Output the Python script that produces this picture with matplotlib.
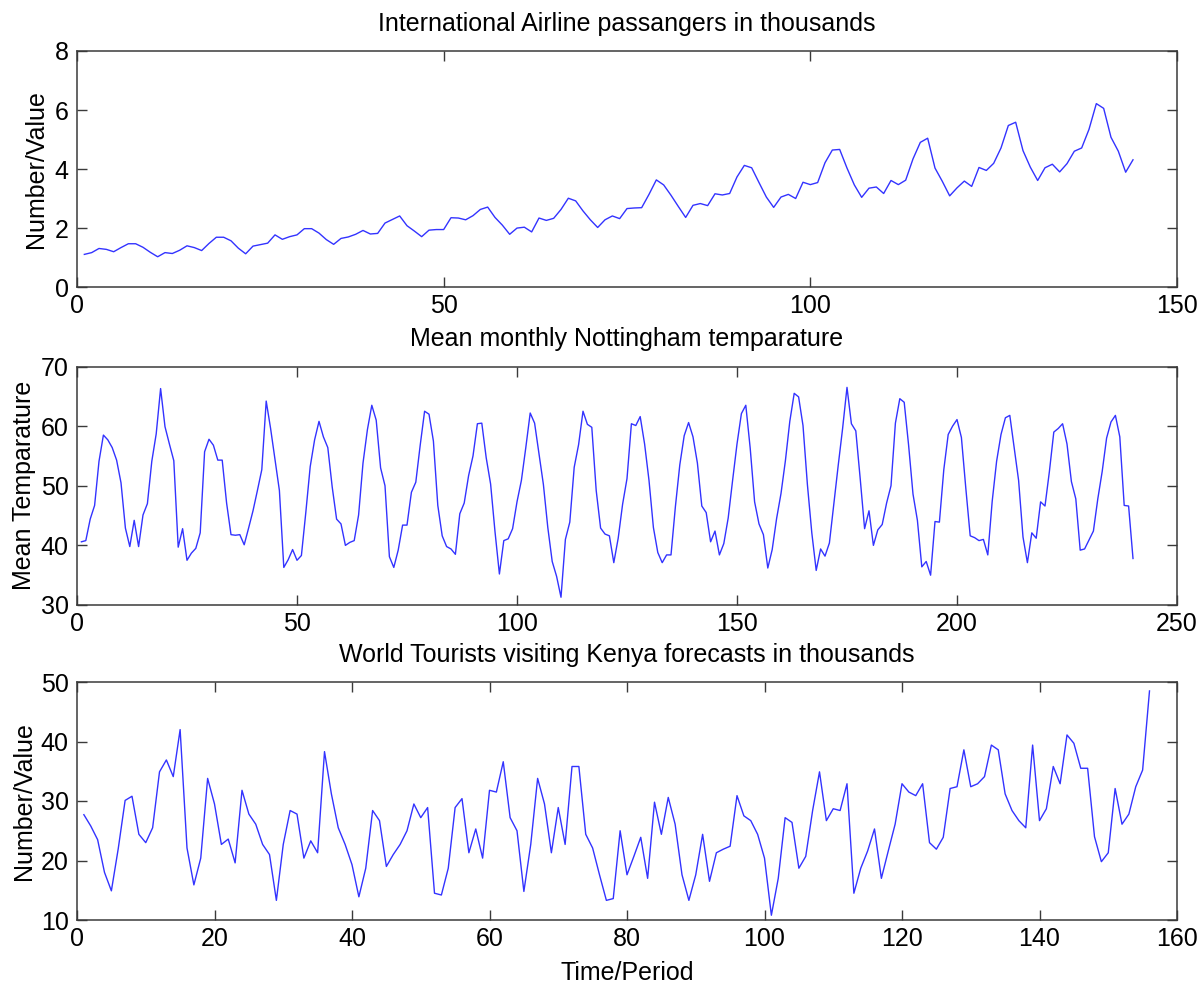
import matplotlib
matplotlib.use("Agg")
import matplotlib.pyplot as plt
import numpy as np

plt.rcParams['font.family'] = ['Liberation Sans', 'DejaVu Sans']

# --- Data ---
airline_passengers = [
    1.12, 1.18, 1.32, 1.29, 1.21, 1.35, 1.48, 1.48, 1.36, 1.19, 1.04, 1.18,
    1.15, 1.26, 1.41, 1.35, 1.25, 1.49, 1.70, 1.70, 1.58, 1.33, 1.14, 1.40,
    1.45, 1.50, 1.78, 1.63, 1.72, 1.78, 1.99, 1.99, 1.84, 1.62, 1.46, 1.66,
    1.71, 1.80, 1.93, 1.81, 1.83, 2.18, 2.30, 2.42, 2.09, 1.91, 1.72, 1.94,
    1.96, 1.96, 2.36, 2.35, 2.29, 2.43, 2.64, 2.72, 2.37, 2.11, 1.80, 2.01,
    2.04, 1.88, 2.35, 2.27, 2.34, 2.64, 3.02, 2.93, 2.59, 2.29, 2.03, 2.29,
    2.42, 2.33, 2.67, 2.69, 2.70, 3.15, 3.64, 3.47, 3.12, 2.74, 2.37, 2.78,
    2.84, 2.77, 3.17, 3.13, 3.18, 3.74, 4.13, 4.05, 3.55, 3.06, 2.71, 3.06,
    3.15, 3.01, 3.56, 3.48, 3.55, 4.22, 4.65, 4.67, 4.04, 3.47, 3.05, 3.36,
    3.40, 3.18, 3.62, 3.48, 3.63, 4.35, 4.91, 5.05, 4.04, 3.59, 3.10, 3.37,
    3.60, 3.42, 4.06, 3.96, 4.20, 4.72, 5.48, 5.59, 4.63, 4.07, 3.62, 4.05,
    4.17, 3.91, 4.19, 4.61, 4.72, 5.35, 6.22, 6.06, 5.08, 4.61, 3.90, 4.32,
]

nottingham_temp = [
    40.6, 40.8, 44.4, 46.7, 54.1, 58.5, 57.7, 56.4, 54.3, 50.5, 42.9, 39.8,
    44.2, 39.8, 45.1, 47.0, 54.1, 58.7, 66.3, 59.9, 57.0, 54.2, 39.7, 42.8,
    37.5, 38.7, 39.5, 42.1, 55.7, 57.8, 56.8, 54.3, 54.3, 47.1, 41.8, 41.7,
    41.8, 40.1, 42.9, 45.8, 49.2, 52.7, 64.2, 59.6, 54.4, 49.2, 36.3, 37.6,
    39.3, 37.5, 38.3, 45.5, 53.2, 57.7, 60.8, 58.2, 56.4, 49.8, 44.4, 43.6,
    40.0, 40.5, 40.8, 45.1, 53.8, 59.4, 63.5, 61.0, 53.0, 50.0, 38.1, 36.3,
    39.2, 43.4, 43.4, 48.9, 50.6, 56.8, 62.5, 62.0, 57.5, 46.7, 41.6, 39.8,
    39.4, 38.5, 45.3, 47.1, 51.7, 55.0, 60.4, 60.5, 54.7, 50.3, 42.3, 35.2,
    40.8, 41.1, 42.8, 47.3, 50.9, 56.4, 62.2, 60.5, 55.4, 50.2, 43.0, 37.3,
    34.8, 31.3, 41.0, 43.9, 53.1, 56.9, 62.5, 60.3, 59.8, 49.2, 42.9, 41.9,
    41.6, 37.1, 41.2, 46.9, 51.2, 60.4, 60.1, 61.6, 57.0, 50.9, 43.0, 38.8,
    37.1, 38.4, 38.4, 46.5, 53.5, 58.4, 60.6, 58.2, 53.8, 46.6, 45.5, 40.6,
    42.4, 38.4, 40.3, 44.6, 50.9, 57.0, 62.1, 63.5, 56.3, 47.3, 43.6, 41.8,
    36.2, 39.3, 44.5, 48.7, 54.2, 60.8, 65.5, 64.9, 60.1, 50.2, 42.1, 35.8,
    39.4, 38.2, 40.4, 46.9, 53.4, 59.6, 66.5, 60.4, 59.2, 51.2, 42.8, 45.8,
    40.0, 42.6, 43.5, 47.1, 50.0, 60.5, 64.6, 64.0, 56.8, 48.6, 44.2, 36.4,
    37.3, 35.0, 44.0, 43.9, 52.7, 58.6, 60.0, 61.1, 58.1, 49.6, 41.6, 41.3,
    40.8, 41.0, 38.4, 47.4, 54.1, 58.6, 61.4, 61.8, 56.3, 50.9, 41.4, 37.1,
    42.1, 41.2, 47.3, 46.6, 52.4, 59.0, 59.6, 60.4, 57.0, 50.7, 47.8, 39.2,
    39.4, 40.9, 42.4, 47.8, 52.4, 58.0, 60.7, 61.8, 58.2, 46.7, 46.6, 37.8,
]

kenya_tourists = [
    27.7, 25.8, 23.5, 18.0, 14.9, 22.0, 30.1, 30.8, 24.4, 23.0,
    25.5, 34.9, 36.9, 34.1, 42.0, 22.1, 15.9, 20.4, 33.8, 29.5,
    22.7, 23.6, 19.6, 31.8, 27.8, 26.1, 22.7, 21.0, 13.3, 22.7,
    28.4, 27.8, 20.4, 23.3, 21.3, 38.3, 31.2, 25.5, 22.7, 19.3,
    13.9, 18.7, 28.4, 26.7, 19.0, 21.0, 22.7, 25.0, 29.5, 27.2,
    28.9, 14.5, 14.2, 18.7, 28.9, 30.4, 21.3, 25.3, 20.4, 31.8,
    31.5, 36.6, 27.2, 25.0, 14.8, 22.7, 33.8, 29.5, 21.3, 28.9,
    22.7, 35.8, 35.8, 24.4, 22.1, 17.6, 13.3, 13.6, 25.0, 17.6,
    20.7, 23.9, 17.0, 29.8, 24.4, 30.6, 26.1, 17.6, 13.3, 17.6,
    24.4, 16.5, 21.3, 21.9, 22.4, 30.9, 27.5, 26.7, 24.4, 20.4,
    10.8, 17.0, 27.2, 26.4, 18.7, 20.7, 28.4, 34.9, 26.7, 28.7,
    28.4, 32.9, 14.5, 18.7, 21.6, 25.3, 17.0, 21.6, 26.1, 32.9,
    31.5, 30.9, 32.9, 23.0, 21.9, 23.9, 32.1, 32.4, 38.6, 32.4,
    32.9, 34.1, 39.4, 38.6, 31.2, 28.4, 26.7, 25.5, 39.4, 26.7,
    28.7, 35.8, 32.9, 41.1, 39.7, 35.5, 35.5, 24.0, 19.8, 21.3,
    32.1, 26.1, 27.8, 32.4, 35.2, 48.5,
]

titles = ["International Airline passangers in thousands",
          "Mean monthly Nottingham temparature",
          "World Tourists visiting Kenya forecasts in thousands"]
ylabels = ["Number/Value", "Mean Temparature", "Number/Value"]
xlabel3 = "Time/Period"
xlims = [(0, 150), (0, 250), (0, 160)]
ylims = [(0, 8), (30, 70), (10, 50)]
xticks = [[0, 50, 100, 150], [0, 50, 100, 150, 200, 250],
          [0, 20, 40, 60, 80, 100, 120, 140, 160]]
yticks = [[0, 2, 4, 6, 8], [30, 40, 50, 60, 70], [10, 20, 30, 40, 50]]

series = [airline_passengers, nottingham_temp, kenya_tourists]

W, H = 1203, 985
fig = plt.figure(figsize=(W / 100, H / 100), dpi=100)

# axes boxes in pixels (left, top, right, bottom)
boxes = [(77, 51, 1177, 287.5), (77, 366.5, 1177, 605), (77, 682, 1177, 920)]
ylabel_x = [-0.026, -0.037, -0.037]

spine_col = '#3a3a3a'
fs = 18
for k, (vals, box) in enumerate(zip(series, boxes)):
    l, t, r, b = box
    ax = fig.add_axes([l / W, 1 - b / H, (r - l) / W, (b - t) / H])
    x = np.arange(1, len(vals) + 1)
    ax.plot(x, vals, color='#0000ff', lw=1.0, alpha=0.8)
    ax.set_xlim(*xlims[k])
    ax.set_ylim(*ylims[k])
    ax.set_xticks(xticks[k])
    ax.set_yticks(yticks[k])
    ax.tick_params(direction='in', top=True, right=True, length=7,
                   width=1, color=spine_col, labelsize=fs)
    ax.tick_params(axis='x', pad=5)
    ax.tick_params(axis='y', pad=6)
    for s in ax.spines.values():
        s.set_color(spine_col)
        s.set_linewidth(1.1)
    ax.set_title(titles[k], fontsize=fs, pad=14.5)
    ax.set_ylabel(ylabels[k], fontsize=fs)
    ax.yaxis.set_label_coords(ylabel_x[k], 0.5)
    if k == 2:
        ax.set_xlabel(xlabel3, fontsize=fs, labelpad=7.5)

fig.savefig("out.png", dpi=100, facecolor='white')
